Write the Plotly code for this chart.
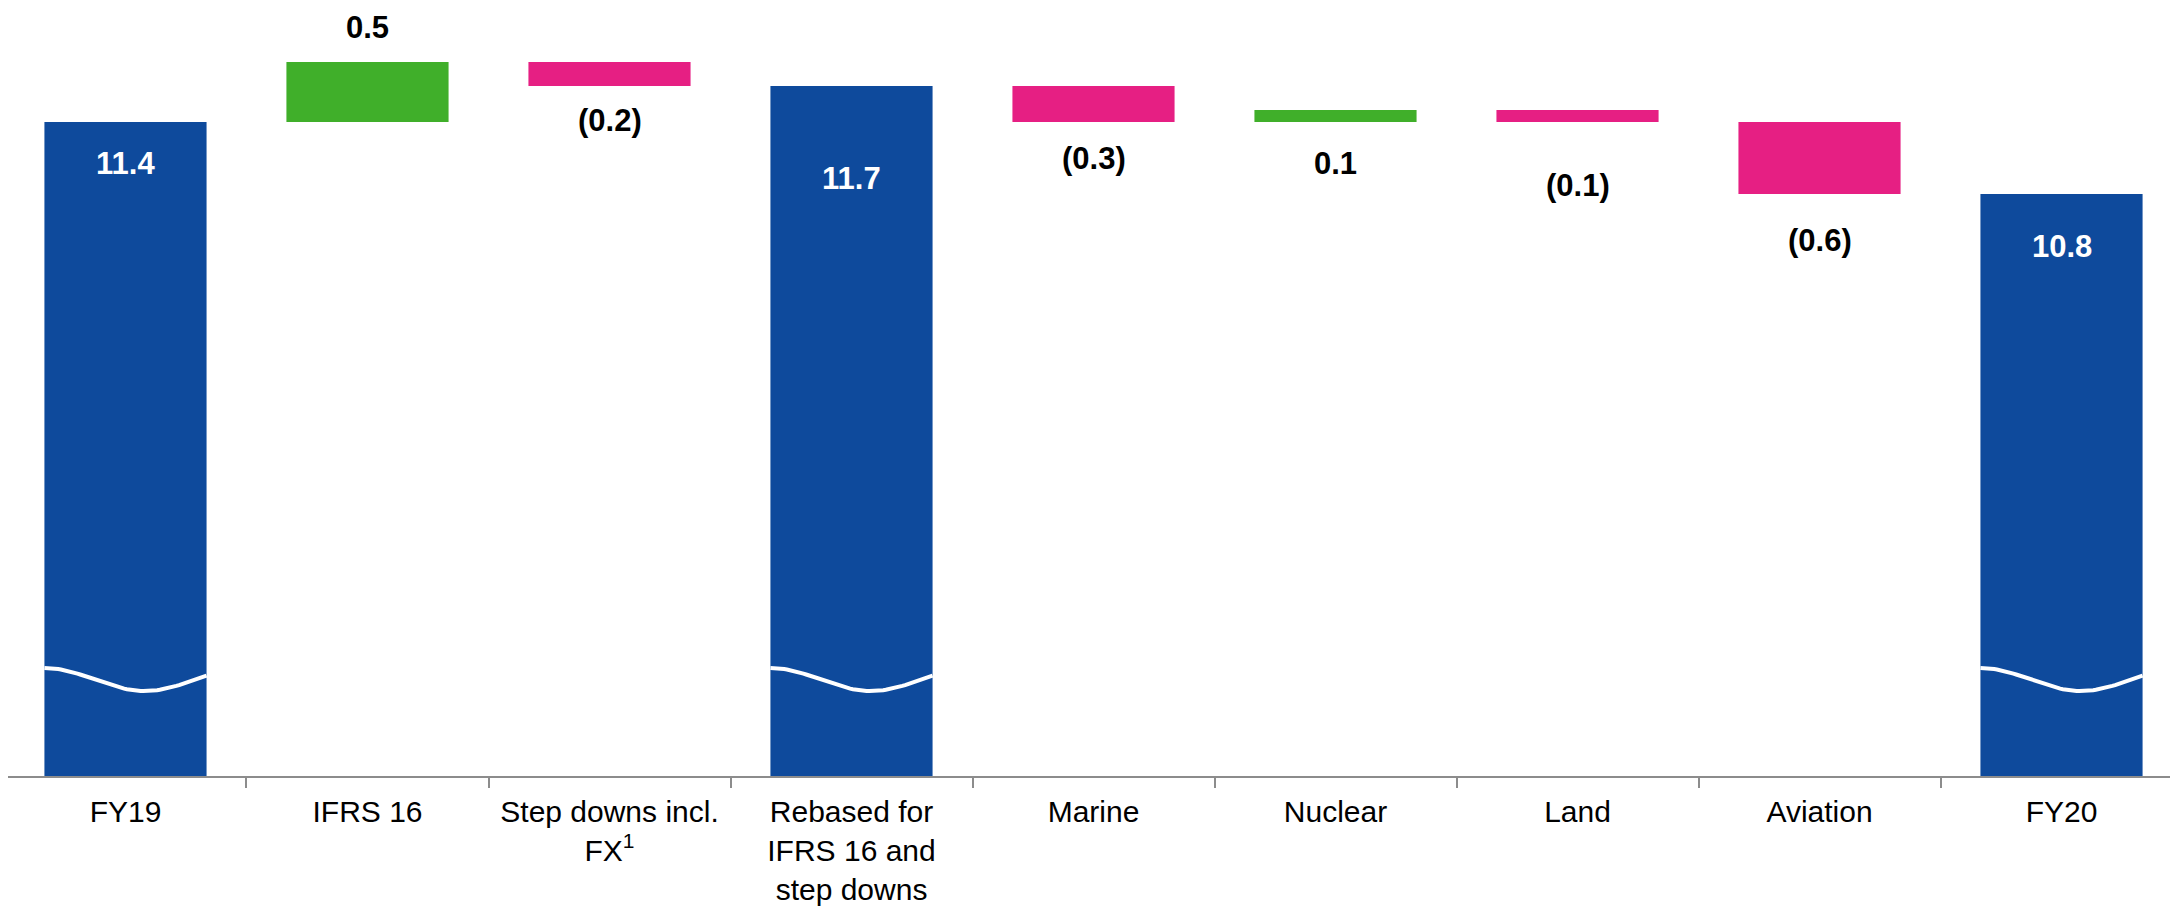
import numpy as np
import plotly.graph_objects as go

# ---- data ----
categories = ["FY19", "IFRS 16", "Step downs incl.<br>FX<sup>1</sup>",
              "Rebased for<br>IFRS 16 and<br>step downs", "Marine", "Nuclear",
              "Land", "Aviation", "FY20"]
measures = ["absolute", "relative", "relative", "total", "relative",
            "relative", "relative", "relative", "total"]
values = [11.4, 0.5, -0.2, 0.0, -0.3, 0.1, -0.1, -0.6, 0.0]

# ---- styles ----
BLUE = "#0E4A9C"
GREEN = "#40AF2A"
PINK = "#E61F83"
AXIS = "#8c8c8c"
FONT = "Liberation Sans, Arial, Helvetica, sans-serif"
# label placement: which bar edge to anchor to, and pixel shift from it
label_anchor = ["top", "top", "bottom", "top", "bottom", "bottom", "bottom", "bottom", "top"]
label_shift = [-41, 35, -34, -92, -36, -41, -63, -46, -52]
Y_RANGE = [5.95, 12.25]
X_RANGE = [-0.4855, 8.4483]   # page body margin (8px) compensated
BAR_W = 0.67

# ---- compute running totals for label anchoring ----
xs = list(range(len(categories)))
starts, ends = [], []
run = 0.0
for m, v in zip(measures, values):
    if m == "absolute":
        s, e = 0.0, v
        run = v
    elif m == "total":
        s, e = 0.0, run
    else:
        s, e = run, run + v
        run = run + v
    starts.append(s)
    ends.append(e)

fig = go.Figure()
fig.add_trace(go.Waterfall(
    x=xs, y=values, measure=measures, width=BAR_W,
    increasing=dict(marker=dict(color=GREEN, line=dict(width=0))),
    decreasing=dict(marker=dict(color=PINK, line=dict(width=0))),
    totals=dict(marker=dict(color=BLUE, line=dict(width=0))),
    connector=dict(visible=False),
    textinfo="none", hoverinfo="skip", showlegend=False,
))

# axis break waves on total bars
f = np.linspace(0, 1, 60)
for i, m in enumerate(measures):
    if m in ("absolute", "total"):
        wx = i + (f - 0.5) * BAR_W
        wy = 6.754 + 0.0958 * np.cos(np.pi * f / 0.62)
        fig.add_trace(go.Scatter(x=wx, y=wy, mode="lines",
                                 line=dict(color="white", width=4),
                                 hoverinfo="skip", showlegend=False))

annotations = []
for i, (m, v) in enumerate(zip(measures, values)):
    lo, hi = min(starts[i], ends[i]), max(starts[i], ends[i])
    anchor = hi if label_anchor[i] == "top" else lo
    if m in ("absolute", "total"):
        txt = f"{ends[i]:.1f}"
        col = "white"
    else:
        txt = f"{v:.1f}" if v >= 0 else f"({abs(v):.1f})"
        col = "black"
    annotations.append(dict(x=i, y=anchor, xref="x", yref="y", text=txt,
                            showarrow=False, yanchor="middle", yshift=label_shift[i],
                            font=dict(family=FONT, size=31, color=col, weight="bold")))

fig.update_layout(
    width=2162, height=900,
    margin=dict(l=0, r=0, t=12, b=132, autoexpand=False),
    paper_bgcolor="white", plot_bgcolor="white",
    font=dict(family=FONT, size=31, color="black"),
    annotations=annotations,
    xaxis=dict(range=X_RANGE, tickmode="array", tickvals=xs, ticktext=categories,
               automargin=False,
               ticks="outside", ticklen=5, tickcolor="rgba(0,0,0,0)",
               ticklabelstandoff=3,
               minor=dict(tickmode="array", tickvals=[i - 0.5 for i in range(len(xs) + 1)],
                          ticks="outside", ticklen=10, tickcolor=AXIS, tickwidth=1.5,
                          showgrid=False),
               showline=True, linecolor=AXIS, linewidth=2,
               showgrid=False, zeroline=False, fixedrange=True,
               tickfont=dict(family=FONT, size=30, color="black")),
    yaxis=dict(range=Y_RANGE, visible=False, automargin=False, showgrid=False,
               zeroline=False, fixedrange=True),
)

fig.write_html("out.html")
